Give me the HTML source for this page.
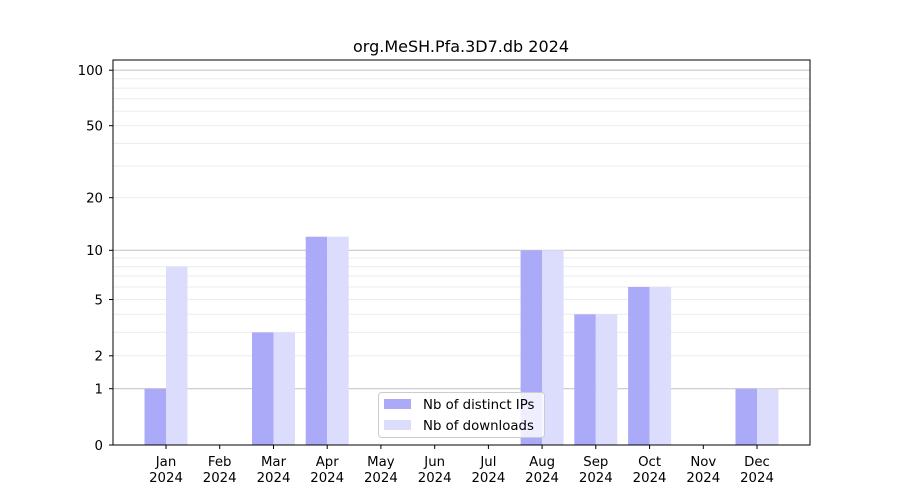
<!DOCTYPE html>
<html><head><meta charset="utf-8"><style>body{margin:0;background:#fff}svg{display:block;font-family:"DejaVu Sans","Liberation Sans",sans-serif}</style></head><body>
<svg width="900" height="500" viewBox="0 0 900 500" xmlns="http://www.w3.org/2000/svg">
<rect width="900" height="500" fill="#fff"/>
<g stroke="#ebebeb" stroke-width="1">
<line x1="113" x2="810" y1="355.8" y2="355.8"/><line x1="113" x2="810" y1="332.4" y2="332.4"/><line x1="113" x2="810" y1="314.3" y2="314.3"/><line x1="113" x2="810" y1="299.5" y2="299.5"/><line x1="113" x2="810" y1="287" y2="287"/><line x1="113" x2="810" y1="276" y2="276"/><line x1="113" x2="810" y1="266.6" y2="266.6"/><line x1="113" x2="810" y1="258" y2="258"/>
<line x1="113" x2="810" y1="197.7" y2="197.7"/><line x1="113" x2="810" y1="166.1" y2="166.1"/><line x1="113" x2="810" y1="143.4" y2="143.4"/><line x1="113" x2="810" y1="125.7" y2="125.7"/><line x1="113" x2="810" y1="111.1" y2="111.1"/><line x1="113" x2="810" y1="98.8" y2="98.8"/><line x1="113" x2="810" y1="88.1" y2="88.1"/><line x1="113" x2="810" y1="78.7" y2="78.7"/>
</g>
<g stroke="#c8c8c8" stroke-width="1.2">
<line x1="113" x2="810" y1="388.7" y2="388.7"/><line x1="113" x2="810" y1="250.3" y2="250.3"/><line x1="113" x2="810" y1="70.2" y2="70.2"/>
</g>
<g fill="#aaaaf9">
<rect x="144.5" y="388.7" width="21.5" height="56.3"/>
<rect x="252" y="332.4" width="21.5" height="112.6"/>
<rect x="305.7" y="236.7" width="21.5" height="208.3"/>
<rect x="520.6" y="250.3" width="21.5" height="194.7"/>
<rect x="574.3" y="314.3" width="21.5" height="130.7"/>
<rect x="628.1" y="287" width="21.5" height="158"/>
<rect x="735.5" y="388.7" width="21.5" height="56.3"/>
</g>
<g fill="#dcdcfc">
<rect x="166" y="266.6" width="21.5" height="178.4"/>
<rect x="273.5" y="332.4" width="21.5" height="112.6"/>
<rect x="327.2" y="236.7" width="21.5" height="208.3"/>
<rect x="542.1" y="250.3" width="21.5" height="194.7"/>
<rect x="595.8" y="314.3" width="21.5" height="130.7"/>
<rect x="649.6" y="287" width="21.5" height="158"/>
<rect x="757" y="388.7" width="21.5" height="56.3"/>
</g>
<rect x="113" y="60" width="697" height="385" fill="none" stroke="#000" stroke-width="1"/>
<g stroke="#000" stroke-width="1">
<line x1="109" x2="113" y1="445" y2="445"/><line x1="109" x2="113" y1="388.7" y2="388.7"/><line x1="109" x2="113" y1="355.8" y2="355.8"/><line x1="109" x2="113" y1="299.5" y2="299.5"/><line x1="109" x2="113" y1="250.3" y2="250.3"/><line x1="109" x2="113" y1="197.7" y2="197.7"/><line x1="109" x2="113" y1="125.7" y2="125.7"/><line x1="109" x2="113" y1="70.2" y2="70.2"/>
<line x1="166" x2="166" y1="445" y2="449"/><line x1="219.7" x2="219.7" y1="445" y2="449"/><line x1="273.5" x2="273.5" y1="445" y2="449"/><line x1="327.2" x2="327.2" y1="445" y2="449"/><line x1="380.9" x2="380.9" y1="445" y2="449"/><line x1="434.7" x2="434.7" y1="445" y2="449"/><line x1="488.4" x2="488.4" y1="445" y2="449"/><line x1="542.1" x2="542.1" y1="445" y2="449"/><line x1="595.8" x2="595.8" y1="445" y2="449"/><line x1="649.6" x2="649.6" y1="445" y2="449"/><line x1="703.3" x2="703.3" y1="445" y2="449"/><line x1="757" x2="757" y1="445" y2="449"/>
</g>
<g font-size="13.3" fill="#000" text-anchor="end">
<text x="103" y="449.8">0</text><text x="103" y="393.5">1</text><text x="103" y="360.6">2</text><text x="103" y="304.3">5</text><text x="103" y="255.1">10</text><text x="103" y="202.5">20</text><text x="103" y="130.5">50</text><text x="103" y="75">100</text>
</g>
<g font-size="13.3" fill="#000" text-anchor="middle">
<text x="166" y="466">Jan</text><text x="166" y="482">2024</text>
<text x="219.7" y="466">Feb</text><text x="219.7" y="482">2024</text>
<text x="273.5" y="466">Mar</text><text x="273.5" y="482">2024</text>
<text x="327.2" y="466">Apr</text><text x="327.2" y="482">2024</text>
<text x="380.9" y="466">May</text><text x="380.9" y="482">2024</text>
<text x="434.7" y="466">Jun</text><text x="434.7" y="482">2024</text>
<text x="488.4" y="466">Jul</text><text x="488.4" y="482">2024</text>
<text x="542.1" y="466">Aug</text><text x="542.1" y="482">2024</text>
<text x="595.8" y="466">Sep</text><text x="595.8" y="482">2024</text>
<text x="649.6" y="466">Oct</text><text x="649.6" y="482">2024</text>
<text x="703.3" y="466">Nov</text><text x="703.3" y="482">2024</text>
<text x="757" y="466">Dec</text><text x="757" y="482">2024</text>
<text x="461" y="52" font-size="16">org.MeSH.Pfa.3D7.db 2024</text>
</g>
<rect x="378.5" y="392.5" width="166" height="45" rx="3" fill="#fff" fill-opacity="0.8" stroke="#ccc"/>
<rect x="384" y="399" width="27" height="10" fill="#aaaaf9"/>
<rect x="384" y="420" width="27" height="10" fill="#dcdcfc"/>
<text x="423" y="409" font-size="13.3">Nb of distinct IPs</text>
<text x="423" y="430" font-size="13.3">Nb of downloads</text>
</svg>
</body></html>
